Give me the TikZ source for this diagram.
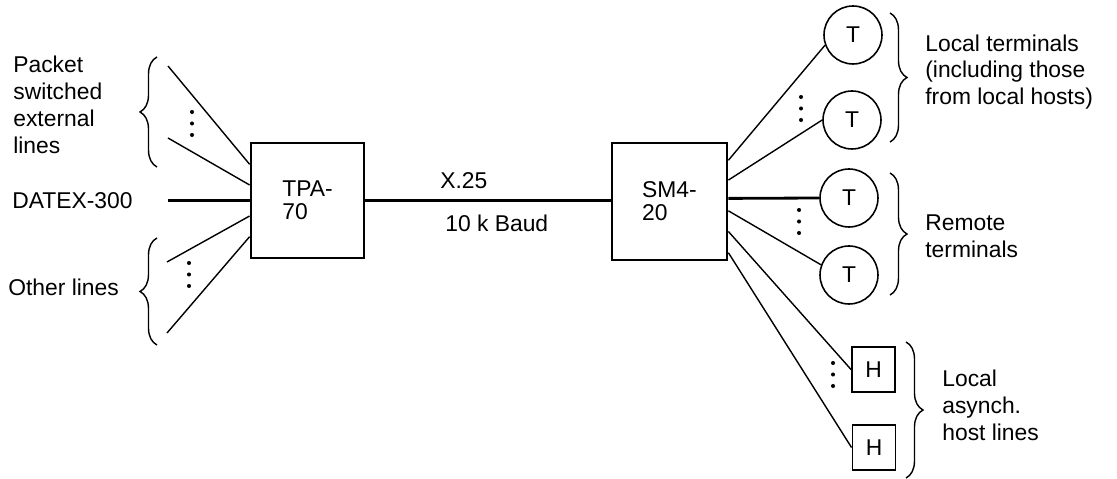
\documentclass[tikz,border=0pt]{standalone}
\usepackage{fontspec}
\setmainfont{Liberation Sans}
\usepackage{tikz}
\usetikzlibrary{decorations.pathreplacing}

\begin{document}
\begin{tikzpicture}[x=0.02cm, y=-0.02cm,
    every node/.style={font=\fontsize{13}{15.3}\selectfont},
    unit/.style={draw, line width=1.6pt, inner sep=0pt, align=left},
    term/.style={draw, circle, line width=0.9pt, minimum size=1.16cm, inner sep=0pt},
    host/.style={draw, line width=1.1pt, minimum width=0.86cm, minimum height=0.9cm, inner sep=0pt},
    lbl/.style={anchor=west, align=left, inner sep=0pt},
    thin line/.style={line width=0.8pt},
    trunk/.style={line width=1.6pt},
    grp/.style={decorate, decoration={brace, amplitude=0.34cm}, line width=0.8pt}]
  \useasboundingbox (0,0) rectangle (1117,479);

  % the two computers
  \node[unit, minimum width=2.26cm, minimum height=2.3cm] (tpa) at (307.5,200.5) {TPA-\\[-2.3pt]70};
  \node[unit, minimum width=2.3cm, minimum height=2.34cm] (sm) at (669.5,201.5) {SM4-\\[-2.3pt]20};

  % terminals and hosts
  \node[term] (t1) at (853,35) {T};
  \node[term] (t2) at (852,120) {T};
  \node[term] (t3) at (849,198) {T};
  \node[term] (t4) at (849,275) {T};
  \node[host] (h1) at (873.5,369.5) {H};
  \node[host] (h2) at (874,447.5) {H};

  % free ends of the incoming lines
  \coordinate (p1) at (168,66);
  \coordinate (p2) at (168,138);
  \coordinate (dx) at (168,200.5);
  \coordinate (o1) at (167,262);
  \coordinate (o2) at (167,333);

  \draw[thin line] (p1) -- (tpa.148);
  \draw[thin line] (p2) -- (tpa.165);
  \draw[trunk] (dx) -- (tpa.west);
  \draw[thin line] (o1) -- (tpa.195);
  \draw[thin line] (o2) -- (tpa.212);

  \draw[trunk] (tpa.east) -- (sm.west |- tpa.east);

  \draw[thin line] (sm.35.8) -- (t1.200);
  \draw[thin line] (sm.20.5) -- (t2.west);
  \draw[trunk] (sm.3.5) -- (t3.west);
  \draw[thin line] (sm.351.6) -- (t4.160);
  \draw[thin line] (sm.333.6) -- (h1.west);
  \draw[thin line] (sm.319.9) -- (h2.west);

  % dots
  \foreach \px/\py in {192/112, 189/263, 801/97, 799/210, 833/363}
    \foreach \k in {0,1,2}
      \fill (\px,\py+11.5*\k) circle[radius=1.15pt];

  % labels
  \node[lbl] (packet) at (13,105) {Packet\\switched\\external\\lines};
  \node[lbl] (datex) at (12,200.5) {DATEX-300};
  \node[lbl] (other) at (8,287) {Other lines};
  \node[lbl] (x25) at (440,181) {X.25};
  \node[lbl] (baud) at (445,223) {10 k Baud};
  \node[lbl] (local) at (925,72) {Local terminals\\(including those\\from local hosts)};
  \node[lbl] (remote) at (925,236) {Remote\\terminals};
  \node[lbl] (asynch) at (942,405) {Local\\asynch.\\host lines};

  % braces
  \draw[grp] (157,167) -- (157,57);
  \draw[grp] (157,345) -- (157,238);
  \draw[grp] (890,13) -- (890,142);
  \draw[grp] (890,173) -- (890,295);
  \draw[grp] (906,342) -- (906,478);
\end{tikzpicture}
\end{document}
